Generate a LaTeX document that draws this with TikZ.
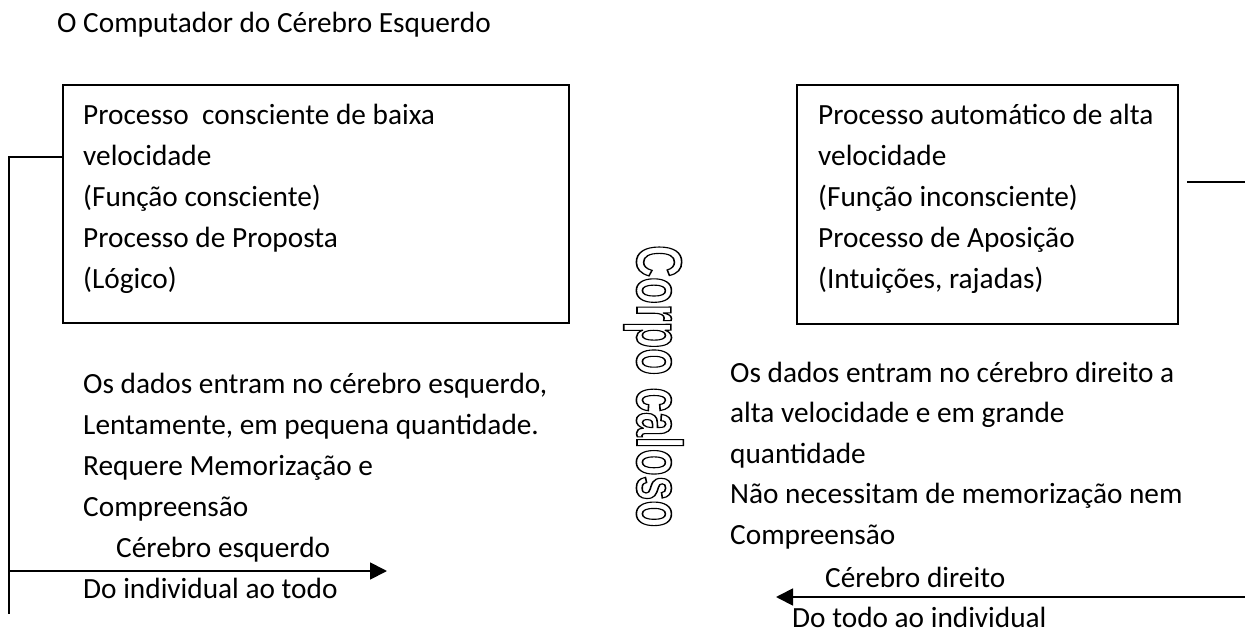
\documentclass[tikz,border=0pt]{standalone}
\usepackage{fontspec}
\setmainfont{Carlito}
\newfontfamily\ccfont{Liberation Sans}
\usepackage{graphicx}
\usetikzlibrary{arrows.meta}
\tikzset{
  txt/.style={inner sep=0pt, anchor=base west, align=left, font=\fontsize{29.3}{41}\selectfont},
  frame/.style={draw, line width=1.6pt, inner sep=0pt, rectangle},
  conn/.style={line width=1.6pt},
  arr/.style={line width=1.8pt, -{Triangle[length=17pt,width=17pt]}},
}
\begin{document}
\begin{tikzpicture}[x=1pt,y=-1pt]
\useasboundingbox (0,0) rectangle (1245,634);
% title
\node[txt] (title) at (57,33) {O Computador do Cérebro Esquerdo};
% left box (multi-line nodes: base = last line)
\node[frame, minimum width=506pt, minimum height=238pt] (lbox) at (316,204) {};
\node[txt] (ltext) at (83,288) {Processo\ \ consciente de baixa\\velocidade\\(Função consciente)\\Processo de Proposta\\(Lógico)};
% right box
\node[frame, minimum width=381pt, minimum height=239pt] (rbox) at (987.5,204.5) {};
\node[txt] (rtext) at (818,288) {Processo automático de alta\\velocidade\\(Função inconsciente)\\Processo de Aposição\\(Intuições, rajadas)};
% lower paragraphs
\node[txt] (lpar) at (83,516) {Os dados entram no cérebro esquerdo,\\Lentamente, em pequena quantidade.\\Requere Memorização e\\Compreensão};
\node[txt] (lbrain) at (116,557) {Cérebro esquerdo};
\node[txt] (lway) at (83,598) {Do individual ao todo};
\node[txt, font=\fontsize{29.3}{40.5}\selectfont] (rpar) at (730,544) {Os dados entram no cérebro direito a\\alta velocidade e em grande\\quantidade\\Não necessitam de memorização nem\\Compreensão};
\node[txt] (rbrain) at (825,587) {Cérebro direito};
\node[txt] (rway) at (792,627) {Do todo ao individual};
% corpo caloso
\node[inner sep=0pt, anchor=base west, rotate=-90, font=\ccfont\bfseries\fontsize{64}{64}\selectfont] (cc) at (637,245)
  {\special{pdf:literal direct 1 Tr 1.6 w}\scalebox{0.69}[1]{Corpo caloso}\special{pdf:literal direct 0 Tr}};
% connectors
\coordinate (lj) at (lbox.west |- 0,157);
\coordinate (lc) at (9,157);
\coordinate (lb) at (9,614);
\draw[conn] (lj) -- (lc) -- (lb);
\coordinate (la0) at (9,571);
\coordinate (la1) at (387,571);
\draw[arr] (la0) -- (la1);
\coordinate (rj) at (1187,182);
\coordinate (re) at (1245,182);
\draw[conn] (rj) -- (re);
\coordinate (ra0) at (1245,597);
\coordinate (ra1) at (776,597);
\draw[arr] (ra0) -- (ra1);
\end{tikzpicture}
\end{document}
